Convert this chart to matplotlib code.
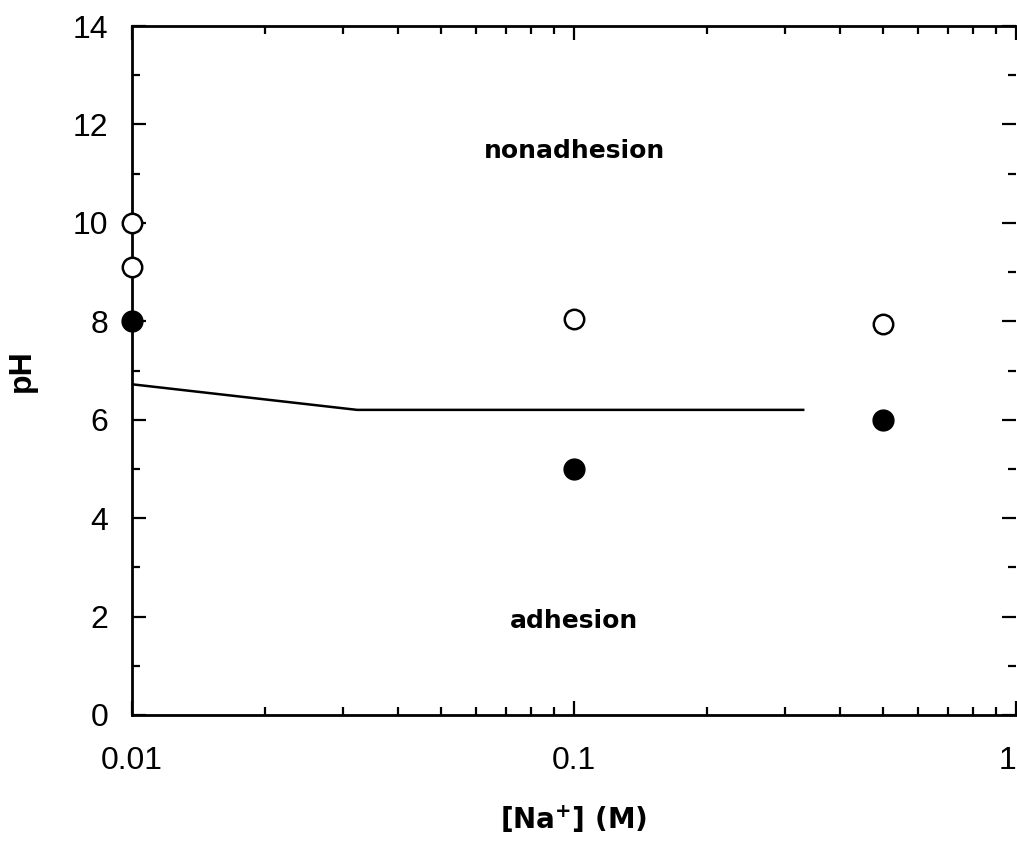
import numpy as np
import matplotlib
matplotlib.use('Agg')
import matplotlib.pyplot as plt
from matplotlib.ticker import LogLocator, FixedLocator, NullFormatter

plt.rcParams['font.family'] = ['Liberation Sans', 'DejaVu Sans']

# open circles: nonadhesion
open_na = [0.01, 0.01, 0.1, 0.5]
open_ph = [10.0, 9.1, 8.05, 7.95]
# filled circles: adhesion
fill_na = [0.01, 0.1, 0.5]
fill_ph = [8.0, 5.0, 6.0]
# boundary line
line_na = [0.01, 0.0323, 0.33]
line_ph = [6.72, 6.2, 6.2]

fig = plt.figure(figsize=(10.17, 8.51), dpi=100)
ax = fig.add_axes([132/1017, 1-715/851, (1016-132)/1017, (715-26)/851])

ax.plot(line_na, line_ph, color='black', lw=1.8)
ax.plot(open_na, open_ph, 'o', mfc='white', mec='black', mew=1.8, ms=14, clip_on=False, zorder=5)
ax.plot(fill_na, fill_ph, 'o', color='black', ms=15, clip_on=False, zorder=5)

ax.set_xscale('log')
ax.set_xlim(0.01, 1)
ax.set_ylim(0, 14)

ax.xaxis.set_major_locator(FixedLocator([0.01, 0.1, 1]))
ax.set_xticklabels(['0.01', '0.1', '1'])
ax.xaxis.set_minor_locator(LogLocator(base=10, subs=np.arange(2, 10)))
ax.xaxis.set_minor_formatter(NullFormatter())
ax.set_yticks(np.arange(0, 15, 2))
ax.set_yticks(np.arange(1, 14, 2), minor=True)

ax.tick_params(which='both', direction='in', top=True, right=True, width=1.6,
               labelsize=23)
ax.tick_params(which='major', length=10)
ax.tick_params(which='minor', length=6)
ax.tick_params(axis='x', pad=22)
ax.tick_params(axis='y', pad=17)
ax.get_xticklabels()[-1].set_horizontalalignment('right')

for s in ax.spines.values():
    s.set_linewidth(2)
ax.spines['right'].set_visible(False)

bold = dict(family=['DejaVu Sans'], fontweight='bold')
ax.text(0.1, 11.45, 'nonadhesion', ha='center', va='center', fontsize=18, **bold)
ax.text(0.1, 1.9, 'adhesion', ha='center', va='center', fontsize=18, **bold)

ax.set_xlabel('[Na$^\\mathbf{+}$] (M)', fontsize=20, labelpad=20, **bold)
ax.set_ylabel('pH', fontsize=23, fontweight='bold', labelpad=26)

fig.savefig('out.png', dpi=100)
